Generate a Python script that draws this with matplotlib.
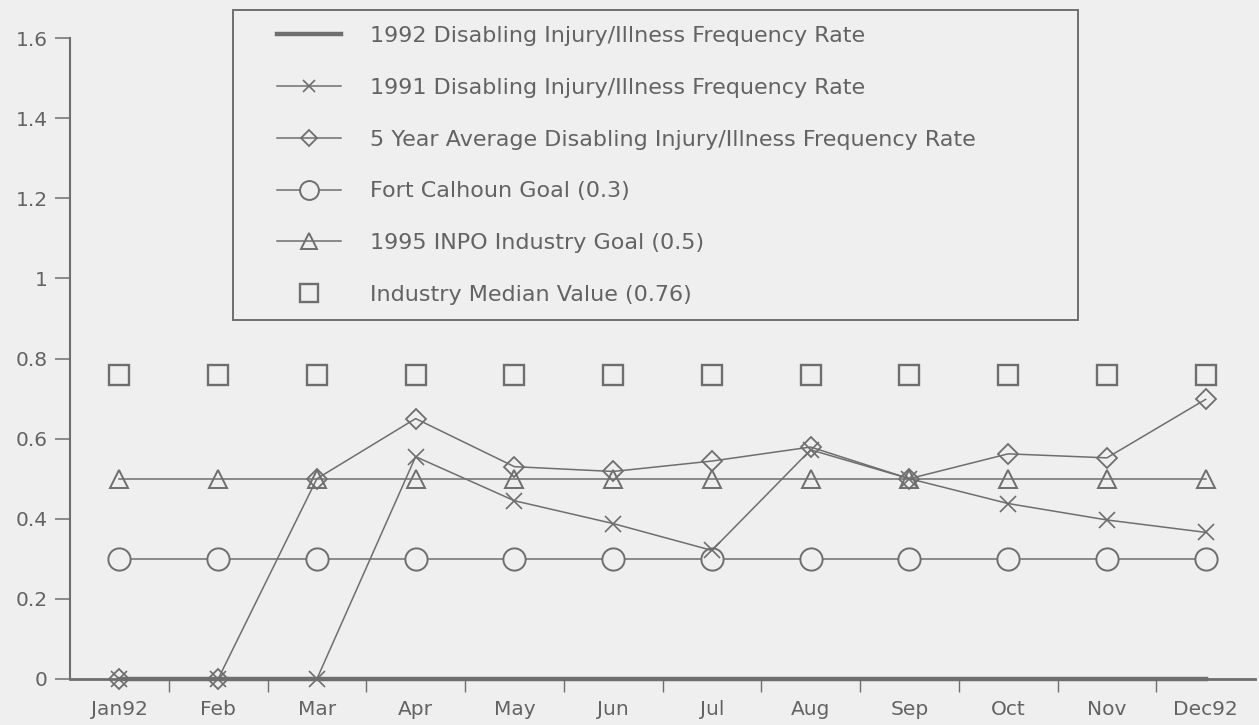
import matplotlib
matplotlib.use("Agg")
import matplotlib.pyplot as plt
from matplotlib.patches import Rectangle
from matplotlib.ticker import FixedLocator, NullFormatter
import numpy as np

months = ["Jan92", "Feb", "Mar", "Apr", "May", "Jun", "Jul", "Aug", "Sep", "Oct", "Nov", "Dec92"]

rate_1992 = [0, 0, 0, 0, 0, 0, 0, 0, 0, 0, 0, 0]
rate_1991 = [0, 0, 0, 0.555, 0.445, 0.388, 0.321, 0.572, 0.50, 0.438, 0.397, 0.366]
avg_5yr = [0, 0, 0.50, 0.650, 0.530, 0.518, 0.544, 0.579, 0.50, 0.562, 0.552, 0.698]
fc_goal = [0.3] * 12
inpo_goal = [0.5] * 12
median_val = [0.76] * 12

labels = [
    "1992 Disabling Injury/Illness Frequency Rate",
    "1991 Disabling Injury/Illness Frequency Rate",
    "5 Year Average Disabling Injury/Illness Frequency Rate",
    "Fort Calhoun Goal (0.3)",
    "1995 INPO Industry Goal (0.5)",
    "Industry Median Value (0.76)",
]

BG = "#efefef"
INK = "#6e6e6e"
TXT = "#636363"
W, H = 1259, 725

# the scan's lettering is wide, DejaVu is the widest face available
plt.rcParams["font.family"] = ["DejaVu Sans"]

fig = plt.figure(figsize=(W / 100, H / 100), dpi=100, facecolor=BG)
ax = fig.add_axes([70 / W, 1 - 679 / H, (1255 - 70) / W, (679 - 38) / H])
ax.set_facecolor(BG)

x = np.arange(len(months))

ax.plot(x, rate_1992, color=INK, lw=3.2, label=labels[0], clip_on=False, zorder=4)
ax.plot(x, rate_1991, color=INK, lw=1.1, marker="x", ms=11, mew=1.2,
        label=labels[1], clip_on=False, zorder=5)
ax.plot(x, avg_5yr, color=INK, lw=1.1, marker="D", ms=10, mfc="none", mew=1.3,
        label=labels[2], clip_on=False, zorder=5)
ax.plot(x, fc_goal, color=INK, lw=1.1, marker="o", ms=16, mfc=BG, mew=1.4,
        label=labels[3], clip_on=False, zorder=3)
ax.plot(x, inpo_goal, color=INK, lw=1.1, marker="^", ms=13, mfc="none", mew=1.4,
        label=labels[4], clip_on=False, zorder=3)
ax.plot(x, median_val, color=INK, ls="none", marker="s", ms=15, mfc="none", mew=1.7,
        label=labels[5], clip_on=False, zorder=3)

ax.set_xlim(-0.5, len(months) - 0.5)
ax.set_ylim(0, 1.6)
ax.set_yticks([0, 0.2, 0.4, 0.6, 0.8, 1, 1.2, 1.4, 1.6])
ax.set_yticklabels(["0", "0.2", "0.4", "0.6", "0.8", "1", "1.2", "1.4", "1.6"])

# month names in the middle of each slot, tick marks on the slot edges
ax.xaxis.set_major_locator(FixedLocator(np.arange(0.5, len(months) - 0.5, 1.0)))
ax.xaxis.set_major_formatter(NullFormatter())
ax.xaxis.set_minor_locator(FixedLocator(x))
ax.set_xticklabels(months, minor=True)
ax.tick_params(axis="x", which="minor", length=0, pad=15, labelsize=14.5, labelcolor=TXT)
ax.tick_params(axis="x", which="major", direction="out", length=9, color=INK, width=1)
ax.tick_params(axis="y", direction="out", length=11, color=INK, width=1.1,
               labelsize=14.5, labelcolor=TXT, pad=5)

for s in ["top", "right"]:
    ax.spines[s].set_visible(False)
ax.spines["left"].set_color(INK)
ax.spines["left"].set_linewidth(1.5)
ax.spines["bottom"].set_color(INK)
ax.spines["bottom"].set_linewidth(2.0)

# legend box drawn by hand: it is much wider than its lines of text
ax.add_patch(Rectangle((233 / W, 1 - 320 / H), (1078 - 233) / W, 310 / H,
                       transform=fig.transFigure, facecolor=BG, edgecolor=INK,
                       lw=1.4, zorder=9, clip_on=False))

leg = ax.legend(loc="upper left", bbox_to_anchor=(277 / W, 1 - 26 / H),
                bbox_transform=fig.transFigure, borderaxespad=0, borderpad=0,
                fontsize=16, labelspacing=1.43, handlelength=2.9, handletextpad=1.3,
                frameon=False, markerscale=0.85)
leg.set_zorder(10)
for t in leg.get_texts():
    t.set_color(TXT)

fig.savefig("out.png", dpi=100, facecolor=BG)
